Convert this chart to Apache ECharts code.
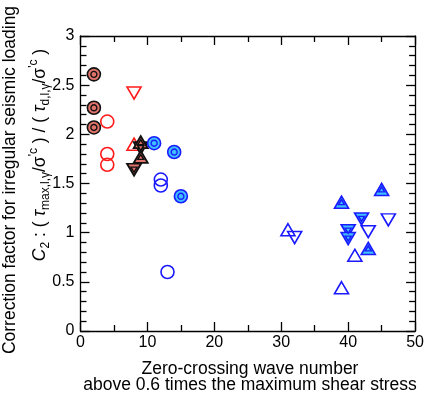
<!DOCTYPE html>
<html><head><meta charset="utf-8">
<script src="https://cdn.jsdelivr.net/npm/echarts@6/dist/echarts.min.js"></script>
<style>html,body{margin:0;padding:0;background:#fff}#c{width:427px;height:397px}</style>
</head><body><div id="c"></div>
<script>
// ---- data ----
const xTicks = [0, 10, 20, 30, 40, 50];
const yTicks = [0, 0.5, 1, 1.5, 2, 2.5, 3];

const salmonDoubleCircleX = [2, 2, 2];
const salmonDoubleCircleY = [2.61, 2.27, 2.07];
const redCircleX = [4, 4, 4];
const redCircleY = [2.13, 1.80, 1.69];
const redDownTriX = [8];
const redDownTriY = [2.42];
const redUpTriX = [8];
const redUpTriY = [1.90];
const darkUpTriX = [9, 9];
const darkUpTriY = [1.92, 1.77];
const darkDownTriX = [9, 8];
const darkDownTriY = [1.86, 1.64];
const blueDoubleCircleX = [11, 14, 15];
const blueDoubleCircleY = [1.91, 1.82, 1.37];
const blueCircleX = [12, 12, 13];
const blueCircleY = [1.54, 1.48, 0.60];
const blueUpTriX = [31, 41, 39];
const blueUpTriY = [1.03, 0.77, 0.44];
const blueDownTriX = [32, 43, 46];
const blueDownTriY = [0.95, 1.01, 1.13];
const blueDoubleUpTriX = [39, 45, 43];
const blueDoubleUpTriY = [1.31, 1.44, 0.84];
const blueDoubleDownTriX = [42, 40, 40];
const blueDoubleDownTriY = [1.14, 1.02, 0.94];

// ---- styles ----
const RED = '#ff1a1a', BLUE = '#1a1aff', SALMON = '#e0736a', CYAN = '#3fbfff', BLACK = '#111';
const FONT = 'Liberation Sans';
const TFS = 17.5; // title font size
const pts = (xs, ys) => xs.map((v, i) => [v, ys[i]]);

function sc(data, symbol, size, fill, border, bw, rotate, z) {
  return {
    type: 'scatter', data: data, symbol: symbol, symbolSize: size,
    symbolRotate: rotate || 0, z: z || 2, silent: true,
    itemStyle: { color: fill, borderColor: border, borderWidth: bw, opacity: 1 },
    emphasis: { disabled: true }
  };
}
const TRI = [14, 12], TRI_IN = [6, 5];

const series = [
  sc(pts(redCircleX, redCircleY), 'circle', 13, 'rgba(0,0,0,0)', RED, 1.6),
  sc(pts(redDownTriX, redDownTriY), 'triangle', TRI, 'rgba(0,0,0,0)', RED, 1.6, 180),
  sc(pts(redUpTriX, redUpTriY), 'triangle', TRI, 'rgba(0,0,0,0)', RED, 1.6),
  sc(pts(salmonDoubleCircleX, salmonDoubleCircleY), 'circle', 13, SALMON, BLACK, 1.6, 0, 3),
  sc(pts(salmonDoubleCircleX, salmonDoubleCircleY), 'circle', 6, SALMON, BLACK, 1.4, 0, 4),
  sc(pts(darkDownTriX, darkDownTriY), 'triangle', TRI, SALMON, BLACK, 1.8, 180, 3),
  sc(pts(darkDownTriX, darkDownTriY), 'triangle', TRI_IN, SALMON, BLACK, 1.4, 180, 4),
  sc(pts(darkUpTriX, darkUpTriY), 'triangle', TRI, SALMON, BLACK, 1.8, 0, 3),
  sc(pts(darkUpTriX, darkUpTriY), 'triangle', TRI_IN, SALMON, BLACK, 1.4, 0, 4),
  sc(pts(blueCircleX, blueCircleY), 'circle', 13, 'rgba(0,0,0,0)', BLUE, 1.6),
  sc(pts(blueDoubleCircleX, blueDoubleCircleY), 'circle', 13, CYAN, BLUE, 1.6, 0, 3),
  sc(pts(blueDoubleCircleX, blueDoubleCircleY), 'circle', 6, CYAN, BLUE, 1.4, 0, 4),
  sc(pts(blueUpTriX, blueUpTriY), 'triangle', TRI, 'rgba(0,0,0,0)', BLUE, 1.6),
  sc(pts(blueDownTriX, blueDownTriY), 'triangle', TRI, 'rgba(0,0,0,0)', BLUE, 1.6, 180),
  sc(pts(blueDoubleUpTriX, blueDoubleUpTriY), 'triangle', TRI, CYAN, BLUE, 1.6, 0, 3),
  sc(pts(blueDoubleUpTriX, blueDoubleUpTriY), 'triangle', TRI_IN, CYAN, BLUE, 1.4, 0, 4),
  sc(pts(blueDoubleDownTriX, blueDoubleDownTriY), 'triangle', TRI, CYAN, BLUE, 1.6, 180, 3),
  sc(pts(blueDoubleDownTriX, blueDoubleDownTriY), 'triangle', TRI_IN, CYAN, BLUE, 1.4, 180, 4)
];

const lineStyle = { color: '#000', width: 1.3 };
function xAx(pos, labels) {
  return {
    type: 'value', position: pos, min: xTicks[0], max: xTicks[xTicks.length - 1],
    interval: xTicks[1] - xTicks[0],
    axisLine: { show: true, onZero: false, lineStyle: lineStyle },
    axisTick: { show: true, inside: true, length: 9, lineStyle: lineStyle },
    minorTick: { show: true, splitNumber: 2, length: 6, lineStyle: lineStyle },
    splitLine: { show: false },
    axisLabel: { show: labels, color: '#000', fontFamily: FONT, fontSize: 16, margin: 4 }
  };
}
function yAx(pos, labels) {
  return {
    type: 'value', position: pos, min: yTicks[0], max: yTicks[yTicks.length - 1],
    interval: yTicks[1] - yTicks[0],
    axisLine: { show: true, onZero: false, lineStyle: lineStyle },
    axisTick: { show: true, inside: true, length: 9, lineStyle: lineStyle },
    minorTick: { show: true, splitNumber: 5, length: 6, lineStyle: lineStyle },
    splitLine: { show: false },
    axisLabel: { show: labels, color: '#000', fontFamily: FONT, fontSize: 16, margin: 6 }
  };
}

const rich = {
  n: { fontFamily: FONT, fontSize: TFS, color: '#000', lineHeight: 24 },
  i: { fontFamily: FONT, fontSize: TFS, fontStyle: 'italic', color: '#000', lineHeight: 24 },
  sub: { fontFamily: FONT, fontSize: 12, color: '#000', lineHeight: 24, verticalAlign: 'bottom' },
  sup: { fontFamily: FONT, fontSize: 12, color: '#000', lineHeight: 24, verticalAlign: 'top' }
};

const chart = echarts.init(document.getElementById('c'), null, { renderer: 'canvas' });
chart.setOption({
  animation: false,
  backgroundColor: '#fff',
  grid: { left: 80.5, right: 9, top: 36, bottom: 66, containLabel: false },
  xAxis: [xAx('bottom', true), xAx('top', false)],
  yAxis: [yAx('left', true), yAx('right', false)],
  series: series,
  graphic: [
    { type: 'text', x: 250, y: 361,
      style: { text: 'Zero-crossing wave number\nabove 0.6 times the maximum shear stress',
        fontFamily: FONT, fontSize: TFS, fill: '#000', align: 'center', verticalAlign: 'top', lineHeight: 16 } },
    { type: 'text', x: 10, y: 180, rotation: Math.PI / 2,
      style: { text: 'Correction factor for irregular seismic loading', fontFamily: FONT, fontSize: TFS,
        fill: '#000', align: 'center', verticalAlign: 'middle' } },
    { type: 'text', x: 40, y: 155, rotation: Math.PI / 2,
      style: { text: '{i|C}{sub|2}{n| : ( }{i|τ}{sub|max,l,γ}{n|/σ}{sup|\'c}{n| ) / ( }{i|τ}{sub|d,l,γ}{n|/σ}{sup|\'c}{n| )}',
        rich: rich, align: 'center', verticalAlign: 'middle' } }
  ]
});
</script></body></html>
